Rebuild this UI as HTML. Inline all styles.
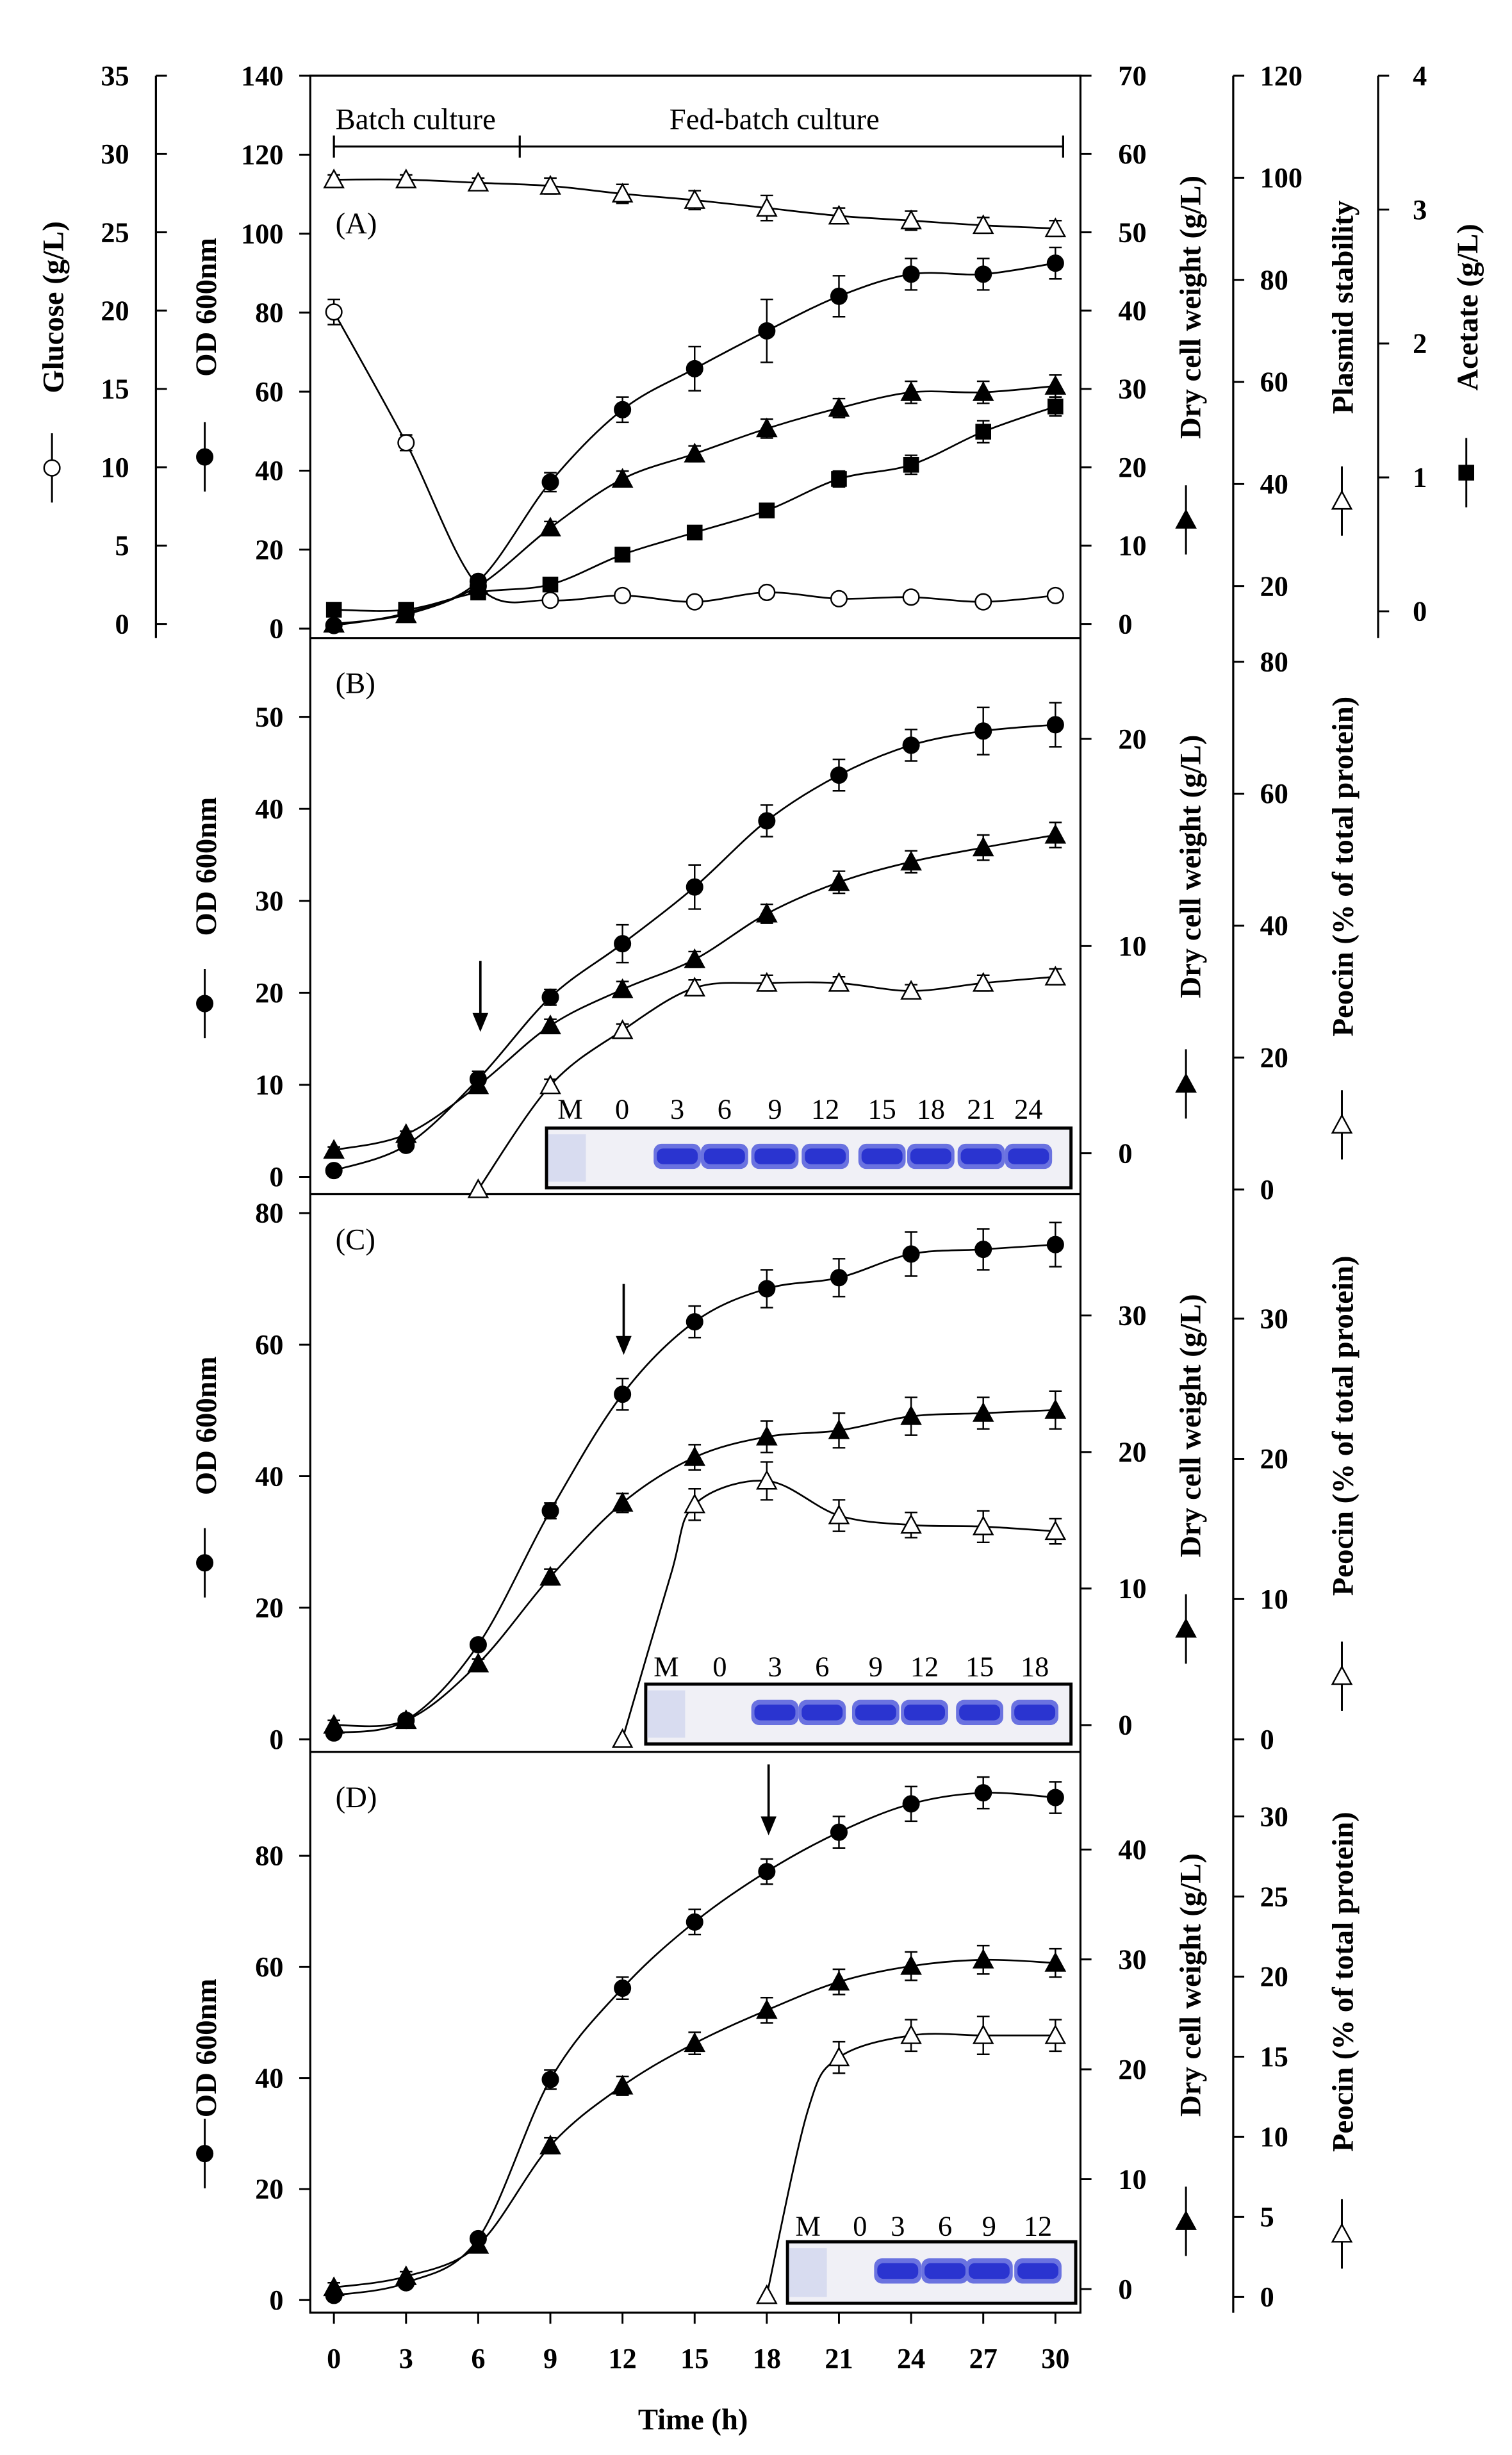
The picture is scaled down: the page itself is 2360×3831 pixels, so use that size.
<!DOCTYPE html>
<html><head><meta charset="utf-8">
<style>
html,body{margin:0;padding:0;background:#fff;}
svg{display:block;}
text{font-family:"Liberation Serif",serif;font-weight:bold;fill:#000;}
text.n{font-weight:normal;}
</style></head>
<body>
<svg id="s" width="2360" height="3831" viewBox="0 0 960 1558.3" xmlns="http://www.w3.org/2000/svg">
<rect width="960" height="1558.3" fill="#fff"/>
<g id="frame" stroke="#000" stroke-width="1.3" fill="none">
<rect x="197" y="48" width="489" height="1420"/>
<line x1="197" y1="405" x2="686" y2="405"/>
<line x1="197" y1="758" x2="686" y2="758"/>
<line x1="197" y1="1112" x2="686" y2="1112"/>
<line x1="99" y1="48" x2="99" y2="405"/>
<line x1="783" y1="48" x2="783" y2="1468"/>
<line x1="875" y1="48" x2="875" y2="405"/>
<line x1="212" y1="93" x2="675" y2="93"/>
<line x1="212" y1="86" x2="212" y2="100"/>
<line x1="330" y1="86" x2="330" y2="100"/>
<line x1="675" y1="86" x2="675" y2="100"/>
</g>
<g id="ticks" stroke="#000" stroke-width="1.2"></g>
<g id="series"></g>
<g id="gels"></g>
<g font-size="19">
<text class="n" style="font-weight:normal" x="213" y="82">Batch culture</text>
<text class="n" style="font-weight:normal" x="425" y="82">Fed-batch culture</text>
<text class="n" style="font-weight:normal" x="213" y="148">(A)</text>
<text class="n" style="font-weight:normal" x="213" y="440">(B)</text>
<text class="n" style="font-weight:normal" x="213" y="793">(C)</text>
<text class="n" style="font-weight:normal" x="213" y="1147">(D)</text>
</g>
<g id="ticklabels" font-size="18"></g>
<g font-size="18" style="font-weight:normal">
<text class="n" x="362" y="710" text-anchor="middle">M</text><text class="n" x="395" y="710" text-anchor="middle">0</text><text class="n" x="430" y="710" text-anchor="middle">3</text><text class="n" x="460" y="710" text-anchor="middle">6</text><text class="n" x="492" y="710" text-anchor="middle">9</text><text class="n" x="524" y="710" text-anchor="middle">12</text><text class="n" x="560" y="710" text-anchor="middle">15</text><text class="n" x="591" y="710" text-anchor="middle">18</text><text class="n" x="623" y="710" text-anchor="middle">21</text><text class="n" x="653" y="710" text-anchor="middle">24</text>
<text class="n" x="423" y="1064" text-anchor="middle">M</text><text class="n" x="457" y="1064" text-anchor="middle">0</text><text class="n" x="492" y="1064" text-anchor="middle">3</text><text class="n" x="522" y="1064" text-anchor="middle">6</text><text class="n" x="556" y="1064" text-anchor="middle">9</text><text class="n" x="587" y="1064" text-anchor="middle">12</text><text class="n" x="622" y="1064" text-anchor="middle">15</text><text class="n" x="657" y="1064" text-anchor="middle">18</text>
<text class="n" x="513" y="1419" text-anchor="middle">M</text><text class="n" x="546" y="1419" text-anchor="middle">0</text><text class="n" x="570" y="1419" text-anchor="middle">3</text><text class="n" x="600" y="1419" text-anchor="middle">6</text><text class="n" x="628" y="1419" text-anchor="middle">9</text><text class="n" x="659" y="1419" text-anchor="middle">12</text>
</g>
<g font-size="19">
<text x="440" y="1542" text-anchor="middle">Time (h)</text>
<text transform="translate(40,195) rotate(-90)" text-anchor="middle">Glucose (g/L)</text>
<text transform="translate(137,195) rotate(-90)" text-anchor="middle">OD 600nm</text>
<text transform="translate(762,195) rotate(-90)" text-anchor="middle">Dry cell weight (g/L)</text>
<text transform="translate(859,195) rotate(-90)" text-anchor="middle">Plasmid stability</text>
<text transform="translate(938,195) rotate(-90)" text-anchor="middle">Acetate (g/L)</text>
<text transform="translate(137,550) rotate(-90)" text-anchor="middle">OD 600nm</text>
<text transform="translate(762,550) rotate(-90)" text-anchor="middle">Dry cell weight (g/L)</text>
<text transform="translate(859,550) rotate(-90)" text-anchor="middle">Peocin (% of total protein)</text>
<text transform="translate(137,905) rotate(-90)" text-anchor="middle">OD 600nm</text>
<text transform="translate(762,905) rotate(-90)" text-anchor="middle">Dry cell weight (g/L)</text>
<text transform="translate(859,905) rotate(-90)" text-anchor="middle">Peocin (% of total protein)</text>
<text transform="translate(137,1300) rotate(-90)" text-anchor="middle">OD 600nm</text>
<text transform="translate(762,1260) rotate(-90)" text-anchor="middle">Dry cell weight (g/L)</text>
<text transform="translate(859,1258) rotate(-90)" text-anchor="middle">Peocin (% of total protein)</text>
</g>
<g id="legend"></g>
</svg>
<script>
var NS="http://www.w3.org/2000/svg";
function el(p,t,a){var e=document.createElementNS(NS,t);for(var k in a)e.setAttribute(k,a[k]);p.appendChild(e);return e;}
var tk=document.getElementById('ticks'),tl=document.getElementById('ticklabels');
function axis(x,dir,vals,ys,lx,anchor){for(var i=0;i<vals.length;i++){el(tk,'line',{x1:x,y1:ys[i],x2:x+dir*7,y2:ys[i]});var t=el(tl,'text',{x:lx,y:ys[i]+6,'text-anchor':anchor});t.textContent=vals[i];}}
function lin(v0,y0,v1,y1,vals){return vals.map(function(v){return y0+(v-v0)*(y1-y0)/(v1-v0);});}
var v;
v=[0,5,10,15,20,25,30,35];axis(99,1,v,lin(0,396,35,48,v),82,'end');
v=[0,20,40,60,80,100,120,140];axis(197,-1,v,lin(0,399,140,48,v),180,'end');
v=[0,10,20,30,40,50,60,70];axis(686,1,v,lin(0,396,70,48,v),710,'start');
v=[20,40,60,80,100,120];axis(783,1,v,lin(20,372,120,48,v),800,'start');
v=[0,1,2,3,4];axis(875,1,v,lin(0,388,4,48,v),897,'start');
v=[0,10,20,30,40,50];axis(197,-1,v,lin(0,747,50,455,v),180,'end');
v=[0,10,20];axis(686,1,v,lin(0,732,20,469,v),710,'start');
v=[0,20,40,60,80];axis(783,1,v,lin(0,755,80,420,v),800,'start');
v=[0,20,40,60,80];axis(197,-1,v,lin(0,1104,80,770,v),180,'end');
v=[0,10,20,30];axis(686,1,v,lin(0,1095,30,835,v),710,'start');
v=[0,10,20,30];axis(783,1,v,lin(0,1104,30,837,v),800,'start');
v=[0,20,40,60,80];axis(197,-1,v,lin(0,1460,80,1178,v),180,'end');
v=[0,10,20,30,40];axis(686,1,v,lin(0,1453,40,1174,v),710,'start');
v=[0,5,10,15,20,25,30];axis(783,1,v,lin(0,1458,30,1153,v),800,'start');
for(var t=0;t<=30;t+=3){var x=212+t*15.27;el(tk,'line',{x1:x,y1:1468,x2:x,y2:1475});var q=el(tl,'text',{x:x,y:1503,'text-anchor':'middle'});q.textContent=t;}
function X(t){return 212+t*15.27;}
var sg=document.getElementById('series');
function path(pts){var d='M'+pts[0][0]+','+pts[0][1];for(var i=0;i<pts.length-1;i++){var p0=pts[Math.max(i-1,0)],p1=pts[i],p2=pts[i+1],p3=pts[Math.min(i+2,pts.length-1)];d+=' C'+(p1[0]+(p2[0]-p0[0])/6)+','+(p1[1]+(p2[1]-p0[1])/6)+' '+(p2[0]-(p3[0]-p1[0])/6)+','+(p2[1]-(p3[1]-p1[1])/6)+' '+p2[0]+','+p2[1];}return d;}
function marker(g,m,x,y){var r=5;if(m=='c'||m=='o')el(g,'circle',{cx:x,cy:y,r:r,fill:m=='c'?'#000':'#fff',stroke:'#000','stroke-width':1});
else if(m=='t'||m=='T')el(g,'polygon',{points:(x)+','+(y-6)+' '+(x-6)+','+(y+5)+' '+(x+6)+','+(y+5),fill:m=='t'?'#000':'#fff',stroke:'#000','stroke-width':1});
else el(g,'rect',{x:x-5,y:y-5,width:10,height:10,fill:'#000'});}
function series(ts,ys,m,errs,pre){var pts=ts.map(function(t,i){return [X(t),ys[i]];});var p=pre?pre.concat(pts):pts;
el(sg,'path',{d:path(p),fill:'none',stroke:'#000','stroke-width':1.1});
pts.forEach(function(q,i){var e=errs?errs[i]:0;if(e>0){el(sg,'line',{x1:q[0],y1:q[1]-e,x2:q[0],y2:q[1]+e,stroke:'#000','stroke-width':1});el(sg,'line',{x1:q[0]-4,y1:q[1]-e,x2:q[0]+4,y2:q[1]-e,stroke:'#000','stroke-width':1});el(sg,'line',{x1:q[0]-4,y1:q[1]+e,x2:q[0]+4,y2:q[1]+e,stroke:'#000','stroke-width':1});}marker(sg,m,q[0],q[1]);});}
var T=[0,3,6,9,12,15,18,21,24,27,30];
series(T,[114,114,116,118,123,127,132,137,140,143,145],'T',[3,3,3,5,6,6,8,5,6,5,5]);
series(T,[198,281,372,381,378,382,376,380,379,382,378],'o',[8,5,3,3,2,2,2,2,2,2,2]);
series(T,[387,387,376,371,352,338,324,304,295,274,258],'s',[3,3,3,3,3,3,3,5,6,7,6]);
series(T,[396,390,372,335,304,288,272,259,249,249,245],'t',[2,2,3,4,5,5,6,6,7,7,7]);
series(T,[397,389,369,306,260,234,210,188,174,174,167],'c',[2,2,3,6,8,14,20,13,10,10,10]);
series([6,9,12,15,18,21,24,27,30],[755,689,654,627,624,624,629,624,620],'T',[0,4,4,5,5,4,4,5,5]);
series(T,[730,720,689,651,628,609,580,560,547,538,530],'t',[2,2,4,4,5,5,6,7,7,8,8]);
series(T,[743,727,685,633,599,563,521,492,473,464,460],'c',[2,3,5,5,12,14,10,10,10,15,14]);
series([15,18,21,24,27,30],[955,940,962,968,969,972],'T',[10,12,10,8,10,8],[[X(12),1104],[X(14),1000]]);
el(sg,'polygon',{points:X(12)+','+1098+' '+(X(12)-6)+','+1109+' '+(X(12)+6)+','+1109,fill:'#fff',stroke:'#000'});
series(T,[1095,1092,1056,1001,954,925,912,908,899,897,895],'t',[3,3,3,5,6,8,10,11,12,10,12]);
series(T,[1100,1092,1044,959,885,839,818,811,796,793,790],'c',[3,3,3,5,10,10,12,12,14,13,14]);
series([21,24,27,30],[1306,1292,1292,1292],'T',[10,10,12,10],[[X(18),1457],[X(19.7),1340]]);
el(sg,'polygon',{points:X(18)+','+1451+' '+(X(18)-6)+','+1462+' '+(X(18)+6)+','+1462,fill:'#fff',stroke:'#000'});
series(T,[1452,1445,1425,1362,1324,1297,1276,1258,1248,1244,1246],'t',[3,3,3,5,6,7,8,8,9,9,9]);
series(T,[1457,1449,1421,1320,1262,1220,1188,1163,1145,1138,1141],'c',[3,3,3,6,7,8,8,10,11,10,10]);
[[305,610,655],[396,815,860],[488,1120,1165]].forEach(function(a){el(sg,'line',{x1:a[0],y1:a[1],x2:a[0],y2:a[2]-8,stroke:'#000','stroke-width':1.5});el(sg,'polygon',{points:(a[0]-5)+','+(a[2]-12)+' '+(a[0]+5)+','+(a[2]-12)+' '+a[0]+','+a[2],fill:'#000'});});
var gg=document.getElementById('gels');
function gel(x,y,w,h,lanes,bandFrom){el(gg,'rect',{x:x,y:y,width:w,height:h,fill:'#f0f0f6',stroke:'#000','stroke-width':2});
el(gg,'rect',{x:lanes[0]-12,y:y+4,width:24,height:h-8,fill:'#d8dcf0'});
for(var i=bandFrom;i<lanes.length;i++){el(gg,'rect',{x:lanes[i]-15,y:y+h/2-9,width:30,height:16,rx:5,fill:'#6a72e0'});el(gg,'rect',{x:lanes[i]-13,y:y+h/2-6,width:26,height:10,rx:4,fill:'#2a34d0'});}}
gel(347,716,333,38,[360,395,430,460,492,524,560,591,623,653],2);
gel(410,1069,270,38,[423,457,492,522,556,587,622,657],2);
gel(500,1423,183,39,[513,546,570,600,628,659],2);
var lg=document.getElementById('legend');
function leg(x,y,m){el(lg,'line',{x1:x,y1:y-22,x2:x,y2:y+22,stroke:'#000','stroke-width':1.2});marker(lg,m,x,y);}
leg(33,297,'o');leg(130,290,'c');leg(753,330,'t');leg(852,318,'T');leg(931,300,'s');
leg(130,637,'c');leg(753,688,'t');leg(852,714,'T');
leg(130,992,'c');leg(753,1034,'t');leg(852,1064,'T');
leg(130,1367,'c');leg(753,1410,'t');leg(852,1418,'T');
</script>
</body></html>
